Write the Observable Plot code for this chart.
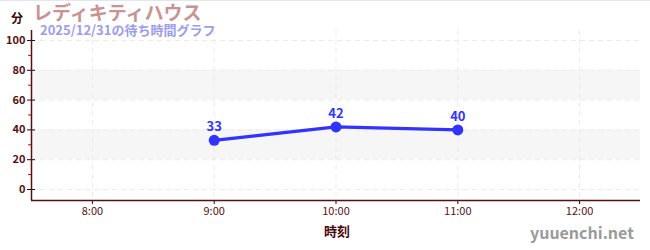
<!DOCTYPE html>
<html><head><meta charset="utf-8">
<script src="https://cdn.jsdelivr.net/npm/d3@7"></script>
<script src="https://cdn.jsdelivr.net/npm/@observablehq/plot@0.6"></script>
<style>
body{margin:0;background:#fff;}
#wrap{position:relative;width:650px;height:250px;overflow:hidden;font-family:"Noto Sans CJK JP","Noto Sans",sans-serif;}
#topline{position:absolute;left:0;top:0;width:650px;height:1px;background:#e4e4f2;}
.t{position:absolute;white-space:nowrap;font-weight:bold;line-height:1.1;}
</style></head>
<body><div id="wrap"><div id="topline"></div></div>
<script>
const times = ["9:00","10:00","11:00"];
const waits = [33,42,40];
const xTickLabels = ["8:00","9:00","10:00","11:00","12:00"];
const yTicks = [0,20,40,60,80,100];
const yMinorTicks = [10,30,50,70,90];
const bandLow = [20,60];
const bandHigh = [40,80];
const title = "レディキティハウス";
const subtitle = "2025/12/31の待ち時間グラフ";
const yUnit = "分";
const xLabel = "時刻";
const watermark = "yuuenchi.net";

const toHour = s => { const [h,m] = s.split(":").map(Number); return h + m/60; };
const data = times.map((t,i) => ({x: toHour(t), y: waits[i]}));
const xTicks = xTickLabels.map(toHour);
const bands = bandLow.map((lo,i) => ({y1: lo, y2: bandHigh[i]}));
const xDom = [7.5, 12.5];
const yDom = [-7.38, 106.7];
const maroon = "#5a0f0f";

const plot = Plot.plot({
  width: 650, height: 250,
  marginLeft: 31, marginRight: 10, marginTop: 30, marginBottom: 50,
  style: {fontFamily: '"Noto Sans CJK JP","Noto Sans",sans-serif', fontSize: "11px", background: "transparent", overflow: "visible"},
  x: {domain: xDom, label: null},
  y: {domain: yDom, label: null},
  marks: [
    Plot.rectY(bands, {x1: xDom[0], x2: xDom[1], y1: "y1", y2: "y2", fill: "#f6f6f6"}),
    Plot.gridY(yTicks, {stroke: "#ebebeb", strokeOpacity: 1, strokeDasharray: "5,4"}),
    Plot.gridX(xTicks, {stroke: "#ebebeb", strokeOpacity: 1, strokeDasharray: "5,4"}),
    Plot.axisY(yMinorTicks, {tickSize: 3, stroke: "#d00000", tickFormat: () => ""}),
    Plot.axisY(yTicks, {tickSize: 4, tickPadding: 2, stroke: "#111", fill: maroon, fontSize: 11, fontWeight: "bold", tickFormat: d => String(d)}),
    Plot.axisY(yTicks, {tickSize: 4, dx: 4, stroke: "#111", tickFormat: () => ""}),
    Plot.axisX(xTicks, {tickSize: 4, tickPadding: 3, stroke: "#111", fill: maroon, fontSize: 11, tickFormat: (d,i) => xTickLabels[i]}),
    Plot.ruleX([xDom[0]], {stroke: maroon, strokeWidth: 1.5}),
    Plot.ruleY([yDom[0]], {stroke: maroon, strokeWidth: 1.5}),
    Plot.line(data, {x: "x", y: "y", stroke: "#3333ff", strokeWidth: 3.2}),
    Plot.dot(data, {x: "x", y: "y", r: 5.5, fill: "#3333ff"}),
    Plot.text(data, {x: "x", y: "y", text: d => String(d.y), dy: -13, fill: "#3333ff", fontSize: 13, fontWeight: "bold"})
  ]
});
plot.style.position = "absolute";
plot.style.left = "0px";
plot.style.top = "0px";
const wrap = document.getElementById("wrap");
wrap.appendChild(plot);

function addText(txt, css) {
  const d = document.createElement("div");
  d.className = "t";
  d.textContent = txt;
  Object.assign(d.style, css);
  wrap.appendChild(d);
}
addText(yUnit, {left: "11px", top: "11px", fontSize: "12px", color: "#3a0808"});
addText(title, {left: "33px", top: "2px", fontSize: "19px", color: "#c99393"});
addText(subtitle, {left: "40px", top: "23px", fontSize: "13px", color: "#9c9cf0"});
addText(xLabel, {left: "324px", top: "224px", fontSize: "13px", color: "#4a0a0a"});
addText(watermark, {left: "530px", top: "224px", fontSize: "16px", color: "#9a9a9a"});
</script></body></html>
